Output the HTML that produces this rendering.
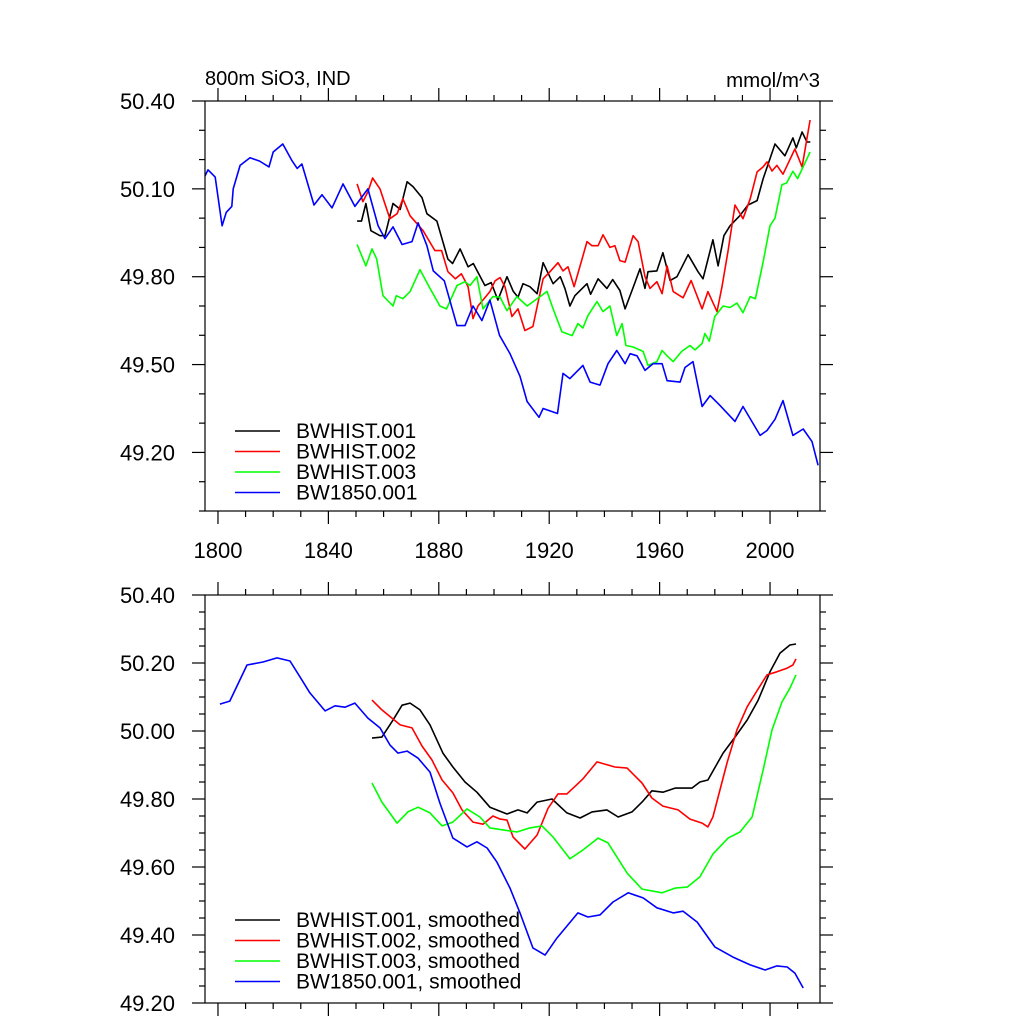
<!DOCTYPE html>
<html><head><meta charset="utf-8">
<style>
html,body{margin:0;padding:0;background:#fff;}
svg{display:block;font-family:"Liberation Sans",Arial,sans-serif;}
</style></head>
<body>
<svg id="chart" width="1024" height="1024" viewBox="0 0 1024 1024"></svg>
<script>
// ---------- data (top panel, raw) ----------
const topBlackYears=[1850.4,1852,1853.6,1855.4,1858.7,1860.5,1863.4,1866,1868.5,1870.7,1873.9,1875.7,1879.3,1883.3,1885,1887.7,1890.6,1892.5,1896.7,1899,1901.4,1904.7,1907,1908.7,1910.5,1913,1915.6,1917.8,1921.4,1924,1925.7,1927.5,1929.3,1933.7,1935,1937.7,1940.9,1943,1945.6,1947.5,1950,1952.9,1954.7,1955.8,1959,1961.2,1963.8,1966.3,1970.3,1973.9,1975.7,1979.3,1981.2,1983.3,1985.5,1989,1992,1995.3,1997.5,2001.8,2005.4,2008.3,2009.5,2011.6,2013.4,2014.6];
const topBlackVals=[49.99,49.99,50.05,49.957,49.94,49.94,50.05,50.03,50.124,50.107,50.07,50.015,49.99,49.86,49.845,49.895,49.834,49.845,49.77,49.78,49.72,49.80,49.75,49.73,49.776,49.766,49.742,49.848,49.776,49.80,49.76,49.70,49.735,49.776,49.74,49.793,49.76,49.79,49.753,49.69,49.753,49.827,49.76,49.817,49.82,49.882,49.787,49.80,49.875,49.817,49.793,49.926,49.837,49.94,49.974,50.008,50.045,50.06,50.134,50.253,50.213,50.274,50.24,50.294,50.26,50.26];
const topRedYears=[1850.4,1852.5,1854.3,1856,1858.7,1862.3,1864.9,1867,1869.6,1874.3,1878.6,1881,1883.3,1886,1888.2,1890.6,1892.4,1894.2,1898.5,1900.4,1902.2,1904,1906.5,1908.7,1911.2,1914.1,1917.8,1920.3,1923.2,1925,1926.8,1929,1931.2,1933.7,1935.5,1937.7,1939.5,1942,1943.8,1945.6,1947.5,1950.4,1952.2,1954.7,1956.5,1959,1960.9,1962.7,1964.9,1968.5,1971.4,1975.4,1977.5,1980.8,1982.6,1984.8,1987.3,1990.2,1992.8,1995.3,1997.5,1998.9,2000.7,2002.5,2004.7,2009,2011.6,2014.5];
const topRedVals=[50.117,50.056,50.09,50.137,50.10,49.998,50.015,50.066,50.008,49.957,49.889,49.889,49.817,49.793,49.81,49.766,49.657,49.70,49.749,49.786,49.797,49.766,49.664,49.69,49.616,49.63,49.793,49.817,49.848,49.82,49.834,49.766,49.837,49.92,49.906,49.906,49.943,49.90,49.906,49.855,49.85,49.94,49.92,49.80,49.76,49.783,49.742,49.837,49.749,49.728,49.787,49.69,49.749,49.681,49.766,49.889,50.045,49.998,50.066,50.158,50.175,50.192,50.161,50.18,50.15,50.236,50.175,50.335];
const topGreenYears=[1850.4,1853.6,1855.8,1857.5,1859.8,1863.4,1864.6,1867,1869.6,1873.2,1876.8,1880.4,1882.8,1886.6,1889.5,1891.3,1893.8,1896,1899.6,1902.2,1904.7,1908.3,1912,1916.7,1919.2,1921.4,1924.6,1928.3,1930.4,1932.2,1934,1937.3,1939.5,1942,1944.5,1946.4,1947.8,1950.4,1954,1955.8,1959,1960.9,1963,1964.9,1968,1971,1972.8,1975.4,1976.4,1978,1980,1983,1985.5,1988,1990.2,1992.8,1994.7,1997.5,2000,2001.8,2004.3,2006,2008.3,2010,2014.5];
const topGreenVals=[49.91,49.837,49.895,49.86,49.735,49.70,49.735,49.725,49.749,49.824,49.76,49.70,49.69,49.77,49.783,49.77,49.80,49.69,49.732,49.73,49.684,49.732,49.70,49.732,49.75,49.69,49.612,49.599,49.64,49.625,49.667,49.715,49.681,49.70,49.599,49.64,49.565,49.56,49.545,49.497,49.51,49.548,49.527,49.51,49.545,49.565,49.55,49.572,49.606,49.58,49.664,49.70,49.695,49.71,49.677,49.732,49.725,49.85,49.974,50.00,50.114,50.12,50.16,50.135,50.226];
const topBlueYears=[1795.3,1796.4,1799,1801.5,1803,1805,1805.5,1808,1811.6,1815,1818.5,1820,1823.5,1826.8,1828.7,1830.4,1832,1834.8,1837.7,1841.3,1845.3,1849.6,1854.3,1858,1860.5,1863.4,1866.7,1870.3,1872.5,1875.7,1878,1882,1886.6,1889.5,1892.4,1895.6,1898.5,1902,1905.8,1909.4,1912,1916.3,1917.8,1923,1925,1927.5,1932.2,1934.8,1938.4,1941.3,1944.5,1947.5,1949.3,1951.8,1954.7,1957.6,1960.9,1962.7,1967.4,1969.2,1972.1,1975.4,1978.3,1981.9,1987.3,1990.2,1996.4,1998.9,2001.8,2004.7,2008.3,2012,2015.2,2017.4];
const topBlueVals=[50.144,50.165,50.14,49.974,50.02,50.04,50.10,50.18,50.206,50.195,50.175,50.226,50.253,50.196,50.17,50.185,50.134,50.045,50.08,50.035,50.117,50.04,50.10,49.974,49.93,49.97,49.91,49.92,49.984,49.906,49.82,49.786,49.633,49.633,49.70,49.65,49.72,49.60,49.537,49.46,49.374,49.32,49.35,49.333,49.47,49.452,49.497,49.44,49.43,49.503,49.548,49.503,49.537,49.53,49.48,49.503,49.503,49.445,49.44,49.49,49.51,49.357,49.394,49.36,49.306,49.357,49.258,49.275,49.313,49.377,49.258,49.28,49.237,49.156];
// ---------- data (bottom panel, smoothed) ----------
const botBlackYears=[1855.8,1859.4,1863.4,1866.7,1869.6,1873.2,1876.8,1881.5,1885.1,1889.5,1893.8,1898.5,1904.7,1908.7,1912,1915.6,1921,1926.4,1931.2,1935.5,1940.9,1945,1950,1953.6,1957.2,1961.2,1965.6,1971.7,1974.6,1977.5,1983,1987.3,1991.7,1995.7,2000,2003.6,2007.2,2009.4];
const botBlackVals=[49.979,49.982,50.032,50.076,50.082,50.062,50.018,49.935,49.894,49.85,49.82,49.776,49.756,49.768,49.759,49.791,49.80,49.759,49.744,49.762,49.768,49.747,49.762,49.791,49.824,49.82,49.832,49.832,49.85,49.856,49.935,49.982,50.032,50.091,50.174,50.229,50.253,50.256];
const botRedYears=[1855.8,1859.4,1866,1870.3,1873.9,1877.5,1881.2,1885.1,1888.4,1892.4,1896,1899.6,1902.2,1904.7,1906.9,1911.2,1915.6,1919.6,1923.2,1926.4,1932.2,1937.3,1943.8,1948.2,1953.6,1957.2,1961.2,1966.7,1971,1975.4,1977.5,1979.3,1984.4,1988,1991.7,1995.7,1998.9,2002.5,2006.2,2008.3,2009.4];
const botRedVals=[50.091,50.062,50.018,50.009,49.956,49.915,49.856,49.818,49.768,49.732,49.726,49.75,49.741,49.738,49.688,49.653,49.694,49.773,49.815,49.815,49.859,49.909,49.894,49.891,49.847,49.803,49.779,49.768,49.741,49.729,49.718,49.747,49.906,50.003,50.071,50.124,50.165,50.174,50.185,50.194,50.212];
const botGreenYears=[1855.8,1859.4,1864.9,1868.8,1872.5,1876.8,1881.2,1885.1,1890.2,1894.9,1898.5,1903.3,1908.3,1913,1917.4,1921.4,1927.5,1932.2,1937.7,1941.3,1948.2,1953.6,1960.9,1965.6,1970,1974.6,1979.3,1984.8,1989.1,1993.5,1997.5,2000.7,2004.3,2007.2,2009.4];
const botGreenVals=[49.847,49.791,49.729,49.762,49.776,49.759,49.721,49.732,49.771,49.747,49.715,49.709,49.703,49.715,49.721,49.688,49.624,49.65,49.685,49.671,49.582,49.535,49.524,49.538,49.541,49.571,49.638,49.685,49.703,49.747,49.885,50.003,50.085,50.126,50.165];
const botBlueYears=[1800.7,1804.3,1810.5,1816.3,1821.4,1826.1,1829.7,1833.3,1838.8,1842.4,1846,1849.6,1854.3,1858.7,1862.3,1865.2,1868.5,1872.5,1876.8,1880.4,1885.1,1890.2,1893.8,1897.5,1901,1905.8,1909.4,1914.1,1918.5,1922.8,1930.4,1934,1938.4,1943.1,1948.6,1954,1959,1964.9,1968.5,1973.6,1980,1986.6,1992.8,1998.2,2002.5,2006.2,2009,2012];
const botBlueVals=[50.079,50.088,50.194,50.203,50.215,50.206,50.159,50.112,50.059,50.074,50.07,50.082,50.038,50.009,49.959,49.935,49.941,49.92,49.879,49.788,49.685,49.659,49.674,49.656,49.615,49.538,49.465,49.362,49.341,49.391,49.465,49.453,49.459,49.497,49.524,49.509,49.48,49.465,49.47,49.438,49.365,49.335,49.312,49.297,49.309,49.306,49.288,49.244];
const xTickLabels=[1800,1840,1880,1920,1960,2000];
const topYTickLabels=["49.20","49.50","49.80","50.10","50.40"];
const botYTickLabels=["49.20","49.40","49.60","49.80","50.00","50.20","50.40"];
const topLegendLabels=["BWHIST.001","BWHIST.002","BWHIST.003","BW1850.001"];
const botLegendLabels=["BWHIST.001, smoothed","BWHIST.002, smoothed","BWHIST.003, smoothed","BW1850.001, smoothed"];

const NS="http://www.w3.org/2000/svg";
const svg=document.getElementById('chart');
function mk(tag,attrs,parent){const e=document.createElementNS(NS,tag);for(const k in attrs)e.setAttribute(k,attrs[k]);(parent||svg).appendChild(e);return e;}
const colors=["#000000","#ff0000","#00ff00","#0000ff"];
const X0=1795.3,X1=2018.1,L=205,R=820;
function xs(yr){return L+(yr-X0)/(X1-X0)*(R-L);}

function panel(name,T,B,ymin,ymax,majorStep,minorStep,yLabels,series,legendLabels,legendY,showXLabels){
  const g=mk('g',{});
  
  
  const ys=v=>B-(v-ymin)/(ymax-ymin)*(B-T);
  series.forEach((s,i)=>{
    const d=s[0].map((yr,j)=>(j?'L':'M')+xs(yr).toFixed(1)+' '+ys(s[1][j]).toFixed(1)).join(' ');
    const p=mk('path',{d:d,fill:'none',stroke:colors[i],'stroke-width':1.6,'stroke-linejoin':'round'},g);
    
    
  });
  const fr=mk('rect',{x:L,y:T,width:R-L,height:B-T,fill:'none',stroke:'#000','stroke-width':1.2},g);
  
  
  const base=Number(yLabels[0]);
  const nMin=Math.round((ymax-ymin)/minorStep);
  for(let k=0;k<=nMin;k++){
    const v=ymin+k*minorStep;const y=ys(v);
    const q=(v-base)/majorStep;
    const major=Math.abs(q-Math.round(q))<1e-6 && v>=base-1e-6;
    const len=major?13:6;
    mk('line',{x1:L-len,y1:y,x2:L,y2:y,stroke:'#000','stroke-width':1.2},g);
    mk('line',{x1:R,y1:y,x2:R+len,y2:y,stroke:'#000','stroke-width':1.2},g);
  }
  yLabels.forEach(lbl=>{
    const t=mk('text',{x:175,y:ys(Number(lbl))+8,'text-anchor':'end','font-size':22},g);
    t.textContent=lbl;
    
    
  });
  for(let yr=1800;yr<=2010;yr+=10){
    const x=xs(yr);const major=(yr%40===0);const len=major?13:6;
    mk('line',{x1:x,y1:B,x2:x,y2:B+len,stroke:'#000','stroke-width':1.2},g);
    mk('line',{x1:x,y1:T-len,x2:x,y2:T,stroke:'#000','stroke-width':1.2},g);
  }
  if(showXLabels){
    xTickLabels.forEach(yr=>{
      const t=mk('text',{x:xs(yr),y:B+47,'text-anchor':'middle','font-size':22},g);
      t.textContent=yr;
      
      
    });
  }
  legendLabels.forEach((lbl,i)=>{
    const y=legendY+i*20.5;
    const le=mk('g',{},g);
    
    
    mk('line',{x1:235,y1:y,x2:280,y2:y,stroke:colors[i],'stroke-width':1.6},le);
    const t=mk('text',{x:296,y:y+7,'font-size':21},le);
    t.textContent=lbl;
  });
}
panel('top-panel',101,511,49.0,50.4,0.3,0.1,topYTickLabels,
  [[topBlackYears,topBlackVals],[topRedYears,topRedVals],[topGreenYears,topGreenVals],[topBlueYears,topBlueVals]],
  topLegendLabels,431,true);
panel('bottom-panel',595,1003,49.2,50.4,0.2,0.05,botYTickLabels,
  [[botBlackYears,botBlackVals],[botRedYears,botRedVals],[botGreenYears,botGreenVals],[botBlueYears,botBlueVals]],
  botLegendLabels,920,false);
const t1=mk('text',{x:205,y:85,'font-size':20});
t1.textContent='800m SiO3, IND';


const t2=mk('text',{x:820,y:87,'font-size':20.5,'text-anchor':'end'});
t2.textContent='mmol/m^3';


</script>
</body></html>
